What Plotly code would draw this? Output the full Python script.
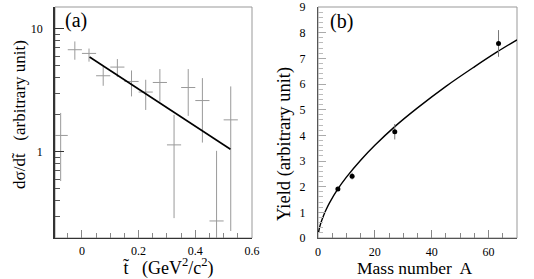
import plotly.graph_objects as go
import numpy as np

# ---------------- data: panel (a) ----------------
t_centers = [-0.075, -0.025, 0.025, 0.075, 0.125, 0.175, 0.225, 0.275, 0.325, 0.375, 0.425, 0.475, 0.525]
dsdt      = [1.36, 6.75, 6.30, 4.15, 4.88, 3.73, 3.06, 3.66, 1.14, 3.33, 2.61, 0.275, 1.82]
dsdt_hi   = [2.07, 7.88, 6.90, 4.94, 5.67, 4.58, 3.85, 4.70, 2.00, 4.70, 3.97, 1.02, 3.40]
dsdt_lo   = [0.58, 5.60, 5.40, 3.44, 4.05, 2.82, 2.19, 2.56, 0.29, 1.96, 1.19, 0.15, 0.228]
t_halfwidth = 0.025
t_fit     = [0.027, 0.524]
dsdt_fit  = [5.89, 1.05]

# ---------------- data: panel (b) ----------------
mass_A    = [7, 12, 27, 63.5]
yield_v   = [1.91, 2.41, 4.14, 7.58]
yield_err = [0.08, 0.13, 0.30, 0.52]
A_fit     = [0.2, 0.5, 1, 2, 3, 4, 7, 10, 15, 20, 27, 35, 45, 55, 63, 70]
yield_fit = [0.22, 0.385, 0.586, 0.89, 1.14, 1.36, 1.91, 2.37, 3.03, 3.61, 4.34, 5.07, 5.91, 6.67, 7.25, 7.72]

W, H = 534, 279
def px(x): return x / W
def py(y): return 1 - y / H

FONT = "Liberation Serif, Times New Roman, serif"

fig = go.Figure()

# panel (a) error crosses
fig.add_trace(go.Scatter(
    x=t_centers, y=dsdt, mode="markers",
    marker=dict(size=1, color="rgba(0,0,0,0)"),
    error_x=dict(type="constant", value=t_halfwidth, width=0, color="#9a9a9a", thickness=1),
    error_y=dict(type="data", symmetric=False,
                 array=[h - v for h, v in zip(dsdt_hi, dsdt)],
                 arrayminus=[v - l for v, l in zip(dsdt, dsdt_lo)],
                 width=0, color="#9a9a9a", thickness=1),
    xaxis="x", yaxis="y", showlegend=False, cliponaxis=True))
fig.add_trace(go.Scatter(
    x=t_fit, y=dsdt_fit, mode="lines", line=dict(color="black", width=1.6),
    xaxis="x", yaxis="y", showlegend=False))

# panel (b)
fig.add_trace(go.Scatter(
    x=A_fit, y=yield_fit, mode="lines", line=dict(color="black", width=1.4, shape="spline"),
    xaxis="x2", yaxis="y2", showlegend=False))
fig.add_trace(go.Scatter(
    x=mass_A, y=yield_v, mode="markers",
    marker=dict(size=5, color="black"),
    error_y=dict(type="data", array=yield_err, width=0, color="#777", thickness=1),
    xaxis="x2", yaxis="y2", showlegend=False))

tickfont = dict(family=FONT, size=12, color="black")

fig.update_layout(
    width=W, height=H,
    margin=dict(l=0, r=0, t=0, b=0),
    paper_bgcolor="white", plot_bgcolor="white",
    xaxis=dict(domain=[px(55), px(252)], range=[-0.095, 0.6], anchor="y",
               showgrid=False, zeroline=False, showline=True, linecolor="#333", linewidth=1,
               ticks="inside", ticklen=8, tickcolor="#888", tickmode="array",
               tickvals=[0, 0.2, 0.4, 0.6], ticktext=["0", "0.2", "0.4", "0.6"],
               minor=dict(ticks="inside", ticklen=5, tickcolor="#888", dtick=0.05, tick0=0, showgrid=False),
               tickfont=tickfont, ticklabelstandoff=2, automargin=False),
    yaxis=dict(domain=[py(238), py(7)], type="log", range=[np.log10(0.2), np.log10(15)], anchor="x",
               showgrid=False, zeroline=False, showline=True, linecolor="#333", linewidth=1.5,
               ticks="inside", ticklen=9, tickcolor="#333", tickmode="array",
               tickvals=[1, 10], ticktext=["1", "10"],
               minor=dict(ticks="inside", ticklen=5, tickcolor="#555", tickmode="array",
                          tickvals=[0.3, 0.4, 0.5, 0.6, 0.7, 0.8, 0.9, 2, 3, 4, 5, 6, 7, 8, 9], showgrid=False),
               tickfont=tickfont, ticklabelstandoff=8, automargin=False),
    xaxis2=dict(domain=[px(318), px(517)], range=[0, 70], anchor="y2",
                showgrid=False, zeroline=False, showline=True, linecolor="#555", linewidth=1,
                ticks="inside", ticklen=8, tickcolor="#888", dtick=20, tick0=0,
                minor=dict(ticks="inside", ticklen=5, tickcolor="#888", dtick=5, tick0=0, showgrid=False),
                tickfont=tickfont, ticklabelstandoff=3, automargin=False),
    yaxis2=dict(domain=[py(238), py(7)], range=[0, 9], anchor="x2",
                showgrid=False, zeroline=False, showline=True, linecolor="#555", linewidth=1,
                ticks="inside", ticklen=8, tickcolor="#aaa", dtick=1, tick0=0,
                minor=dict(ticks="inside", ticklen=5, tickcolor="#bbb", dtick=0.2, tick0=0, showgrid=False),
                tickfont=tickfont, ticklabelstandoff=9, automargin=False),
)

# gray frame (top/right) for both panels
for (x0, x1) in [(55, 252), (318, 517)]:
    fig.add_shape(type="rect", xref="paper", yref="paper",
                  x0=px(x0), x1=px(x1), y0=py(238), y1=py(7),
                  line=dict(color="#999", width=1), layer="below")

ann = [
    dict(text="(a)", x=px(76), y=py(20), size=20, angle=0),
    dict(text="(b)", x=px(341), y=py(21), size=20, angle=0),
    dict(text="dσ/dt\u0303   (arbitrary unit)", x=px(19), y=py(115), size=17, angle=-90),
    dict(text="t\u0303   (GeV<sup>2</sup>/c<sup>2</sup>)", x=px(168), y=py(267), size=18, angle=0),
    dict(text="Mass number  A", x=px(415), y=py(268), size=17.5, angle=0),
    dict(text="Yield (arbitrary unit)", x=px(284), y=py(144), size=18.5, angle=-90),
]
for a in ann:
    fig.add_annotation(text=a["text"], x=a["x"], y=a["y"], xref="paper", yref="paper",
                       xanchor="center", yanchor="middle", showarrow=False, textangle=a["angle"],
                       font=dict(family=FONT, size=a["size"], color="black"))

fig.write_html("out.html", config={"displayModeBar": False},
               post_script="document.body.style.margin='0';document.body.style.padding='0';")
